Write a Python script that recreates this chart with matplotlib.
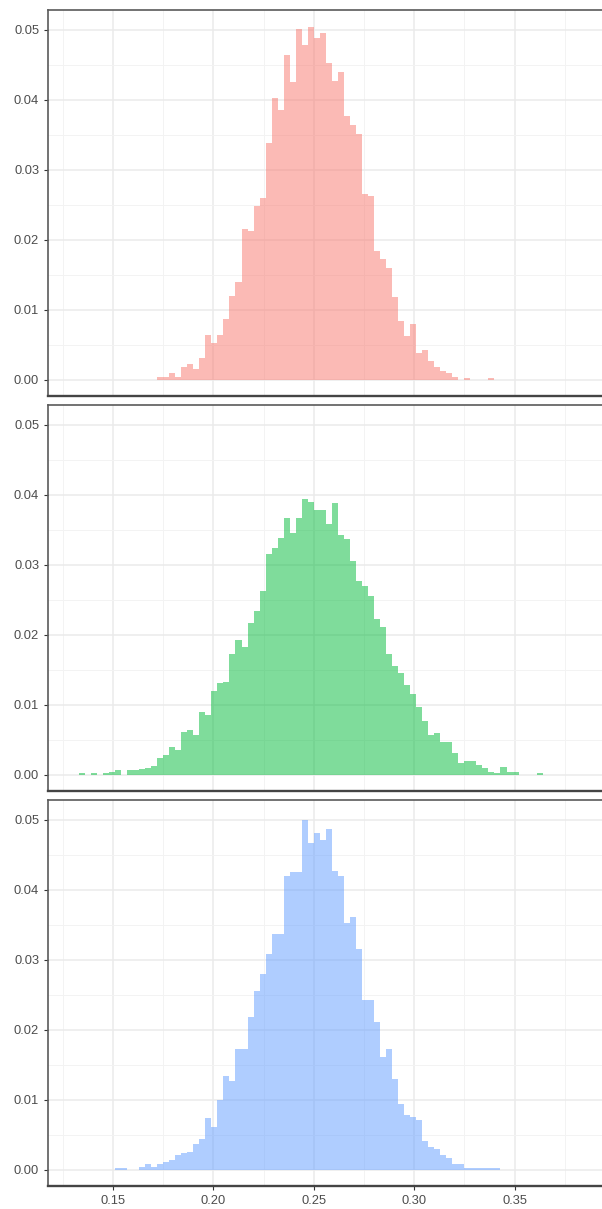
import numpy as np
import matplotlib
matplotlib.use("Agg")
import matplotlib.pyplot as plt

plt.rcParams['font.family'] = ['Liberation Sans', 'DejaVu Sans']

# shared histogram bins (proportion of samples per bin)
bin_width = 0.003

red_start = 0.172
red_props = [
    0.0004, 0.0004, 0.0009, 0.0004, 0.0018, 0.0022, 0.0015, 0.0031, 0.0064, 0.0052,
    0.0064, 0.0087, 0.0119, 0.0139, 0.0216, 0.0212, 0.0248, 0.0259, 0.0339, 0.0403,
    0.0386, 0.0464, 0.0425, 0.0501, 0.0479, 0.0504, 0.0488, 0.0496, 0.0453, 0.0427,
    0.0440, 0.0377, 0.0364, 0.0351, 0.0266, 0.0262, 0.0184, 0.0172, 0.0159, 0.0118,
    0.0083, 0.0062, 0.0079, 0.0038, 0.0042, 0.0026, 0.0018, 0.0012, 0.0009, 0.0004,
    0.0, 0.0002, 0.0, 0.0, 0.0, 0.0002,
]

green_start = 0.133
green_props = [
    0.0002, 0.0, 0.0002, 0.0, 0.0002, 0.0004, 0.0006, 0.0, 0.0006, 0.0007,
    0.0008, 0.0009, 0.0012, 0.0023, 0.0028, 0.0039, 0.0035, 0.0061, 0.0063, 0.0056,
    0.0089, 0.0085, 0.0119, 0.0131, 0.0133, 0.0172, 0.0192, 0.0183, 0.0217, 0.0234,
    0.0263, 0.0315, 0.0324, 0.0339, 0.0367, 0.0346, 0.0367, 0.0394, 0.0390, 0.0379,
    0.0379, 0.0359, 0.0388, 0.0342, 0.0337, 0.0305, 0.0277, 0.0269, 0.0256, 0.0222,
    0.0211, 0.0172, 0.0155, 0.0145, 0.0128, 0.0115, 0.0096, 0.0076, 0.0057, 0.0059,
    0.0046, 0.0046, 0.0031, 0.0017, 0.0019, 0.0019, 0.0013, 0.0009, 0.0004, 0.0002,
    0.0011, 0.0004, 0.0004, 0.0, 0.0, 0.0, 0.0002,
]

blue_start = 0.151
blue_props = [
    0.0002, 0.0002, 0.0, 0.0, 0.0003, 0.0008, 0.0004, 0.0008, 0.0011, 0.0013,
    0.0021, 0.0024, 0.0025, 0.0037, 0.0043, 0.0074, 0.0061, 0.0100, 0.0134, 0.0126,
    0.0173, 0.0172, 0.0218, 0.0256, 0.0280, 0.0309, 0.0337, 0.0337, 0.0420, 0.0426,
    0.0426, 0.0500, 0.0467, 0.0482, 0.0472, 0.0487, 0.0427, 0.0420, 0.0352, 0.0361,
    0.0315, 0.0242, 0.0243, 0.0211, 0.0161, 0.0173, 0.0130, 0.0093, 0.0078, 0.0075,
    0.0071, 0.0041, 0.0032, 0.0029, 0.0021, 0.0016, 0.0008, 0.0008, 0.0002, 0.0002,
    0.0002, 0.0002, 0.0002, 0.0002,
]

series = [
    (red_start, red_props, "#F8766D"),
    (green_start, green_props, "#00BA38"),
    (blue_start, blue_props, "#619CFF"),
]

x_major = [0.15, 0.20, 0.25, 0.30, 0.35]
x_minor = [0.125, 0.175, 0.225, 0.275, 0.325, 0.375]
y_major = [0.00, 0.01, 0.02, 0.03, 0.04, 0.05]
y_minor = [0.005, 0.015, 0.025, 0.035, 0.045]

W, H = 602, 1209
fig = plt.figure(figsize=(W / 100, H / 100), dpi=100)

panel_tops = [10, 405, 800]
panel_h = 386
left_px, right_px = 48, 640

for i, (start, props, col) in enumerate(series):
    top = panel_tops[i]
    ax = fig.add_axes([left_px / W, 1 - (top + panel_h) / H,
                       (right_px - left_px) / W, panel_h / H])
    props = np.array(props)
    edges = start + bin_width * np.arange(len(props) + 1)
    ax.stairs(props, edges, fill=True, color=col, alpha=0.5, linewidth=0, zorder=2)

    ax.set_xlim(0.1176, 0.4125)
    ax.set_ylim(-0.00236, 0.05286)
    ax.set_xticks(x_major)
    ax.set_xticks(x_minor, minor=True)
    ax.set_yticks(y_major)
    ax.set_yticks(y_minor, minor=True)
    ax.set_yticklabels([f"{v:.2f}" for v in y_major])
    ax.set_xticklabels([f"{v:.2f}" for v in x_major])

    ax.grid(which='major', color='#EBEBEB', linewidth=1.1, zorder=0)
    ax.grid(which='minor', color='#F3F3F3', linewidth=0.7, zorder=0)
    # major vertical line at 0.40 sits past the visible edge
    ax.axvline(0.40, color='#EBEBEB', linewidth=1.1, zorder=0)
    ax.set_axisbelow(True)

    for side, sp in ax.spines.items():
        sp.set_color('#5a5a5a')
        sp.set_linewidth(1.2)
    ax.spines['bottom'].set_linewidth(1.7)
    ax.spines['bottom'].set_color('#444444')

    ax.tick_params(which='minor', length=0)
    ax.tick_params(which='major', length=2.8, width=0.8, color='#333333',
                   labelsize=9.3, labelcolor='#4d4d4d', pad=3.5)
    if i < 2:
        ax.tick_params(axis='x', which='major', length=0, labelbottom=False)

fig.savefig("out.png", dpi=100)
